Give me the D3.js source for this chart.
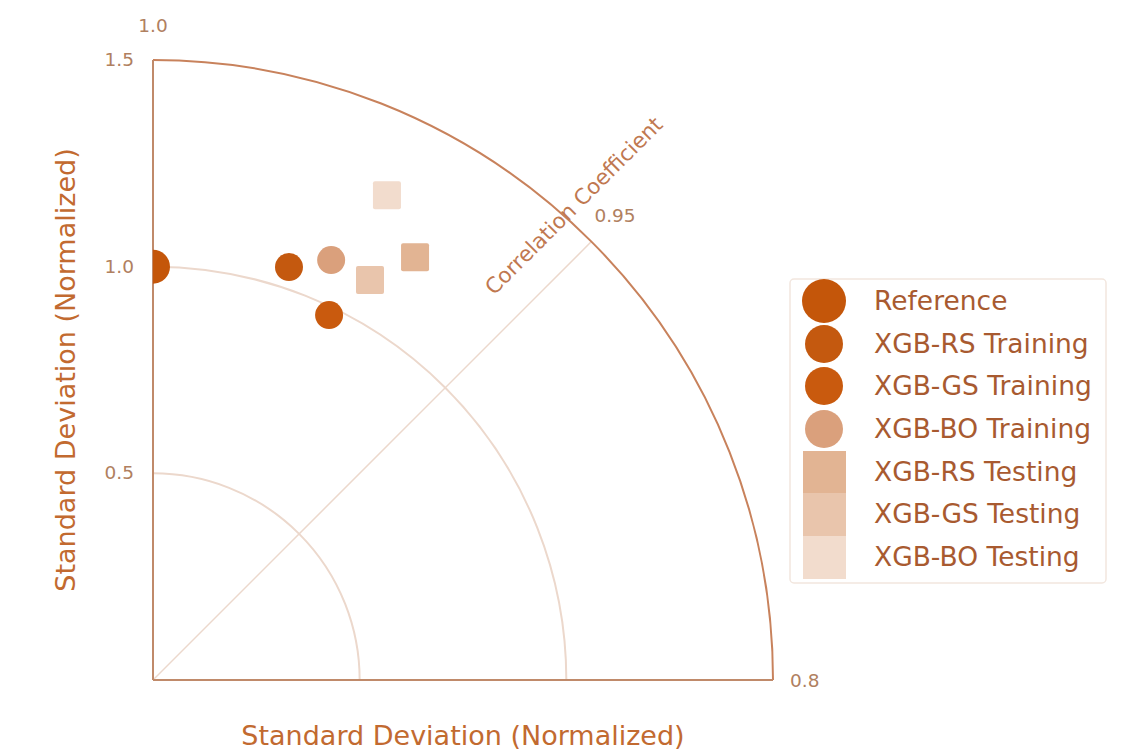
<!DOCTYPE html>
<html><head><meta charset="utf-8">
<script src="https://cdn.jsdelivr.net/npm/d3@7"></script>
<style>body{margin:0;background:#fff}svg{display:block}text{font-family:"DejaVu Sans",sans-serif}</style>
</head><body><svg id="c" width="1131" height="753"></svg>
<script>
const seriesNames = ["Reference","XGB-RS Training","XGB-GS Training","XGB-BO Training","XGB-RS Testing","XGB-GS Testing","XGB-BO Testing"];
const sdX = [0.0, 0.329, 0.426, 0.431, 0.634, 0.525, 0.566];
const sdY = [1.0, 0.999, 0.883, 1.016, 1.023, 0.968, 1.173];
const markerShapes = ["circle","circle","circle","circle","square","square","square"];
const markerColors = ["#c4560a","#c4590f","#c95a0e","#daa07c","#e2b493","#e9c5ac","#f2dccd"];
const stdTicks = [0.5, 1.0, 1.5];
const gridArcs = [0.5, 1.0];
const maxStd = 1.5;
const corrLabels = [{label:"1.0", angle:90},{label:"0.95", angle:45},{label:"0.8", angle:0}];

const svg = d3.select("#c");
const ox = 153, oy = 680, R = 620;
const r = d3.scaleLinear().domain([0, maxStd]).range([0, R]);
const xS = d3.scaleLinear().domain([0, maxStd]).range([ox, ox + R]);
const yS = d3.scaleLinear().domain([0, maxStd]).range([oy, oy - R]);
const tickCol = "#b08060", titleCol = "#c26a30";

const arc = d3.arc().startAngle(0).endAngle(Math.PI/2);
gridArcs.forEach(v => {
  svg.append("path").attr("transform",`translate(${ox},${oy})`)
    .attr("d", arc({innerRadius:r(v), outerRadius:r(v)}))
    .attr("fill","none").attr("stroke","#ecd8cc").attr("stroke-width",2);
});
svg.append("line").attr("x1",ox).attr("y1",oy)
  .attr("x2",ox + r(maxStd)*Math.cos(Math.PI/4)).attr("y2",oy - r(maxStd)*Math.sin(Math.PI/4))
  .attr("stroke","#ecd8cc").attr("stroke-width",1.5);
svg.append("path").attr("transform",`translate(${ox},${oy})`)
  .attr("d", arc({innerRadius:r(maxStd), outerRadius:r(maxStd)}))
  .attr("fill","none").attr("stroke","#c8825c").attr("stroke-width",2);
svg.append("line").attr("x1",xS(0)).attr("y1",yS(0)).attr("x2",xS(0)).attr("y2",yS(maxStd)).attr("stroke","#c08a6a").attr("stroke-width",2);
svg.append("line").attr("x1",xS(0)).attr("y1",yS(0)).attr("x2",xS(maxStd)).attr("y2",yS(0)).attr("stroke","#c08a6a").attr("stroke-width",2);

stdTicks.forEach(v => {
  svg.append("text").attr("x",ox-19).attr("y",yS(v)+6).attr("text-anchor","end")
    .attr("font-size",18.5).attr("fill",tickCol).text(v.toFixed(1));
});
corrLabels.forEach(d => {
  const a = d.angle*Math.PI/180;
  let x = ox + r(maxStd)*Math.cos(a), y = oy - r(maxStd)*Math.sin(a);
  let anchor = "middle";
  if (d.angle === 90) { x = ox; y = 32; }
  else if (d.angle === 0) { x = x + 17; y = y + 7; anchor = "start"; }
  else { x = x + 3; y = y - 20; anchor = "start"; }
  svg.append("text").attr("x",x).attr("y",y).attr("text-anchor",anchor)
    .attr("font-size",18.5).attr("fill",tickCol).text(d.label);
});
svg.append("text").attr("transform","translate(579,211) rotate(-45)").attr("text-anchor","middle")
  .attr("font-size",21.5).attr("fill","#c07850").text("Correlation Coefficient");

svg.append("text").attr("x",463).attr("y",745).attr("text-anchor","middle")
  .attr("font-size",27).attr("fill",titleCol).text("Standard Deviation (Normalized)");
svg.append("text").attr("transform","translate(75,370) rotate(-90)").attr("text-anchor","middle")
  .attr("font-size",27).attr("fill",titleCol).text("Standard Deviation (Normalized)");

svg.append("clipPath").attr("id","plotclip").append("rect")
  .attr("x",ox).attr("y",oy-R-20).attr("width",R+20).attr("height",R+20);
const g = svg.append("g").attr("clip-path","url(#plotclip)");
const sizes = [17,14,14,14,14,14,14];
seriesNames.forEach((n,i) => {
  const cx = xS(sdX[i]), cy = yS(sdY[i]);
  if (markerShapes[i]==="circle") {
    g.append("circle").attr("cx",cx).attr("cy",cy).attr("r",sizes[i]).attr("fill",markerColors[i]);
  } else {
    g.append("rect").attr("x",cx-sizes[i]).attr("y",cy-sizes[i]).attr("width",sizes[i]*2).attr("height",sizes[i]*2).attr("rx",2).attr("fill",markerColors[i]);
  }
});

const lg = svg.append("g");
lg.append("rect").attr("x",790).attr("y",279).attr("width",316).attr("height",304).attr("rx",4)
  .attr("fill","#fff").attr("stroke","#f2e6de").attr("stroke-width",1.5);
const rowY = [301,344,386,429,472,514,557];
const legR = [22,19,19,19,21,21,21];
seriesNames.forEach((n,i) => {
  if (markerShapes[i]==="circle") {
    lg.append("circle").attr("cx",824).attr("cy",rowY[i]).attr("r",legR[i]).attr("fill",markerColors[i]);
  } else {
    lg.append("rect").attr("x",803).attr("y",rowY[i]-21).attr("width",43).attr("height",43).attr("fill",markerColors[i]);
  }
  lg.append("text").attr("x",874).attr("y",rowY[i]+9).attr("font-size",26.5).attr("fill","#a85a30").text(n);
});
</script></body></html>
